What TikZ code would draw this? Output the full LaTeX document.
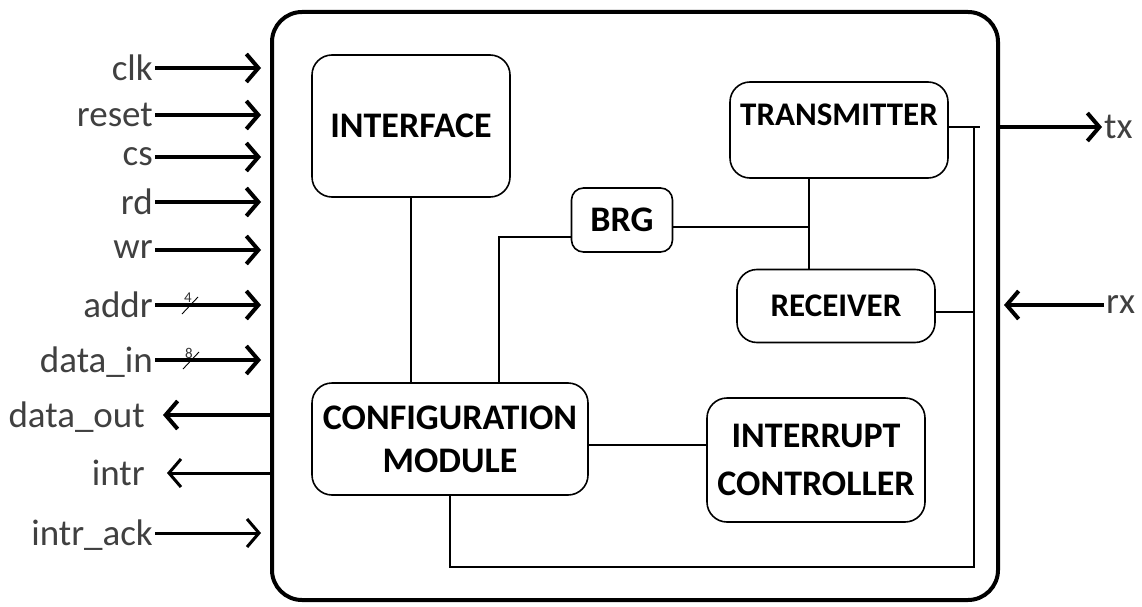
\documentclass[tikz,border=0pt]{standalone}
\usepackage{fontspec}
\setmainfont{Carlito}
\usetikzlibrary{arrows.meta}

\begin{document}
\begin{tikzpicture}[x=1pt,y=-1pt,
    >={Straight Barb[length=12pt,width=28pt]},
    blk/.style={draw, line width=1.6pt, rounded corners=20pt, inner sep=0pt, align=center,
        font=\fontsize{36}{43}\selectfont\bfseries},
    blktxt/.style={inner sep=0pt, font=\fontsize{33}{40}\selectfont\bfseries},
    sig/.style={inner sep=2pt, text depth=0pt, text=black!75, font=\fontsize{37}{40}\selectfont},
    buswd/.style={inner sep=0pt, text=black!80, font=\fontsize{15}{15}\selectfont},
    bus/.style={line width=4pt},
    thinbus/.style={line width=3pt},
    wire/.style={line width=1.6pt}]
        \useasboundingbox (0,0) rectangle (1142,607);

        % chip outline
        \node[draw, line width=4pt, rounded corners=30pt, minimum width=726pt, minimum height=588pt] (chip) at (635,306) {};

        % blocks
        \node[blk, minimum width=198pt, minimum height=142pt] (iface) at (411,126) {INTERFACE};
        \node[blk, rounded corners=12pt, minimum width=101pt, minimum height=64pt] (brg) at (622,220) {BRG};
        \node[blk, minimum width=218pt, minimum height=96pt] (trans) at (839,130) {};
        \node[blktxt] (transtxt) at (839,115) {TRANSMITTER};
        \node[blk, minimum width=198pt, minimum height=73pt, font=\fontsize{33}{40}\selectfont\bfseries] (recv) at (836,306) {RECEIVER};
        \node[blk, minimum width=276pt, minimum height=112pt] (config) at (450,439) {CONFIGURATION\\MODULE};
        \node[blk, minimum width=218pt, minimum height=124pt] (intc) at (816,460) {INTERRUPT\\[5pt]CONTROLLER};

        % internal wiring
        \coordinate (trj) at (809,227);
        \coordinate (cfgB) at (499,383);
        \coordinate (rbus) at (974,127);
        \coordinate (bbus) at (974,567);
        \draw[wire] (iface.south) -- (iface.south |- config.north);
        \draw[wire] ([yshift=-17pt]brg.west) -| (cfgB);
        \draw[wire] ([yshift=-7pt]brg.east) -- (trj);
        \draw[wire] (trj |- trans.south) -- (trj |- recv.north);
        \draw[wire] (trans.east |- rbus) -- ([xshift=6pt]rbus);
        \draw[wire] ([yshift=-6pt]recv.east) -- ([yshift=-6pt]recv.east -| rbus);
        \draw[wire] ([yshift=-6pt]config.east) -- ([yshift=-6pt]config.east -| intc.west);
        \draw[wire] (config.south) -- (config.south |- bbus) -- (bbus) -- (rbus);

        % inputs
        \foreach \n/\t/\y in {clk/clk/68, reset/reset/115, cs/cs/157, rd/rd/202, wr/wr/250, addr/addr/305, din/data\_in/360}{
            \node[sig, anchor=east] (\n) at (155,\y) {\t};
            \draw[bus, ->, shorten >=9pt] (\n.east) -- (\n.east -| chip.west);
        }
        \node[sig, anchor=east] (iack) at (155,533) {intr\_ack};
        \draw[thinbus, ->, shorten >=9pt] (iack.east) -- (iack.east -| chip.west);

        % bus widths
        \draw[line width=0.9pt] (182,314) -- (198,297);
        \node[buswd] (addrw) at (188,298) {4};
        \draw[line width=0.9pt] (183,369) -- (199,352);
        \node[buswd] (dinw) at (189,353) {8};

        % outputs
        \node[sig, anchor=east] (dout) at (147,415) {data\_out};
        \draw[bus, ->] (dout.east -| chip.west) -- ([xshift=16pt]dout.east);
        \node[sig, anchor=east] (intr) at (147,473) {intr};
        \draw[thinbus, ->] (intr.east -| chip.west) -- ([xshift=20pt]intr.east);

        % serial lines
        \node[sig, anchor=west] (tx) at (1102,127) {tx};
        \draw[bus, ->] (chip.east |- tx) -- (tx.west);
        \node[sig, anchor=west] (rx) at (1104,305) {rx};
        \draw[bus, ->, shorten >=4pt] (rx.west) -- (rx.west -| chip.east);
    \end{tikzpicture}
\end{document}
